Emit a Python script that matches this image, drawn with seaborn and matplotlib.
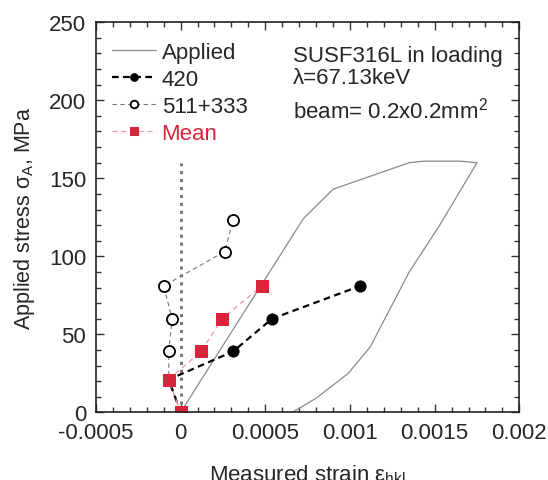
import numpy as np
import matplotlib
matplotlib.use("Agg")
import matplotlib.pyplot as plt
import seaborn as sns
from matplotlib.ticker import MultipleLocator

# Applied stress-strain loop (loading then unloading)
applied_strain = [0.0, 0.000724, 0.0009, 0.00135, 0.00144, 0.00165, 0.00175,
                  0.00153, 0.00135, 0.00112, 0.00099, 0.0008, 0.00066]
applied_stress = [0, 124, 143, 160, 161, 161, 160,
                  120, 90, 42, 25, 9, 0]

# Measured lattice strains
strain_420 = [0.0, -0.00007, 0.00031, 0.00054, 0.00106]
stress_420 = [0, 21, 39, 60, 81]

strain_511 = [0.0, -0.00007, -0.00007, -0.00005, -0.0001, 0.00026, 0.00031]
stress_511 = [0, 21, 39, 60, 81, 103, 123]

strain_mean = [0.0, -0.00007, 0.00012, 0.000245, 0.00048]
stress_mean = [0, 21, 39, 60, 81]

xtick_vals = [-0.0005, 0, 0.0005, 0.001, 0.0015, 0.002]
xtick_labels = ["-0.0005", "0", "0.0005", "0.001", "0.0015", "0.002"]

red = "#d9253a"

sns.set_style("ticks")
plt.rcParams["font.family"] = ["Liberation Sans", "DejaVu Sans"]
plt.rcParams["mathtext.fontset"] = "custom"
plt.rcParams["mathtext.rm"] = "Liberation Sans"
plt.rcParams["mathtext.it"] = "Liberation Sans"
plt.rcParams["mathtext.default"] = "rm"

fig = plt.figure(figsize=(5.48, 4.81), dpi=100)
ax = fig.add_axes([0.175, 0.1407, 0.7727, 0.8109])

# zero-strain guide
ax.plot([0, 0], [0, 160], color="#777777", lw=2.2, ls=(0, (1, 1.6)), zorder=1)

sns.lineplot(x=applied_strain, y=applied_stress, sort=False, estimator=None,
             color="#8a8a8a", lw=0.9, label="Applied", ax=ax)
sns.lineplot(x=strain_511, y=stress_511, sort=False, estimator=None,
             color="#777777", lw=0.8, linestyle=(0, (4, 3)), marker="o",
             markersize=8, markerfacecolor="white", markeredgecolor="black",
             markeredgewidth=1.3, label="511+333", ax=ax)
sns.lineplot(x=strain_420, y=stress_420, sort=False, estimator=None,
             color="black", lw=1.6, linestyle=(0, (3, 2)), marker="o",
             markersize=8, markerfacecolor="black", markeredgecolor="black",
             label="420", ax=ax)
sns.lineplot(x=strain_mean, y=stress_mean, sort=False, estimator=None,
             color="#f29aa3", lw=0.9, linestyle=(0, (4, 3)), marker="s",
             markersize=8.5, markerfacecolor=red, markeredgecolor=red,
             label="Mean", ax=ax)

ax.set_xlim(-0.0005, 0.002)
ax.set_ylim(0, 250)
ax.set_xticks(xtick_vals)
ax.set_xticklabels(xtick_labels)
ax.xaxis.set_minor_locator(MultipleLocator(0.0001))
ax.yaxis.set_major_locator(MultipleLocator(50))
ax.yaxis.set_minor_locator(MultipleLocator(10))
ax.tick_params(which="both", direction="in", top=True, right=True,
               labelsize=16, color="#333333", width=1)
ax.tick_params(which="major", length=6, pad=7)
ax.tick_params(which="minor", length=3.5)
for s in ax.spines.values():
    s.set_linewidth(1.2)
    s.set_color("#222222")

ax.set_xlabel(r"Measured strain $\varepsilon_{hkl}$", fontsize=16, labelpad=14)
ax.set_ylabel(r"Applied stress $\sigma_A$, MPa", fontsize=15.5)
ax.yaxis.set_label_coords(-0.14, 0.5)

# legend in the reference order
handles, labels = ax.get_legend_handles_labels()
order = [labels.index(k) for k in ["Applied", "420", "511+333", "Mean"]]
leg = ax.legend([handles[i] for i in order], [labels[i] for i in order],
                loc="upper left", bbox_to_anchor=(0.037, 0.95), frameon=False,
                fontsize=16, handlelength=2.0, handletextpad=0.25,
                labelspacing=0.27, borderpad=0, borderaxespad=0, numpoints=1)
for h in leg.legend_handles:
    h.set_markersize(5.5)
leg.get_texts()[3].set_color(red)

ax.text(0.466, 0.9015, "SUSF316L in loading", transform=ax.transAxes, fontsize=16)
ax.text(0.466, 0.845, "λ=67.13keV", transform=ax.transAxes, fontsize=16)
ax.text(0.466, 0.755, r"beam= 0.2x0.2mm$^2$", transform=ax.transAxes, fontsize=16)

fig.savefig("out.png", dpi=100)
